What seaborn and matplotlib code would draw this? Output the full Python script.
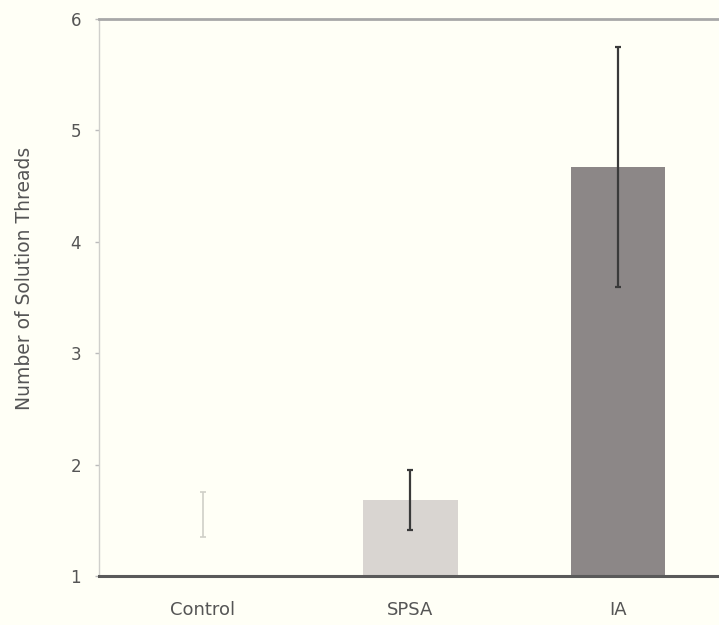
import matplotlib
matplotlib.use("Agg")
import matplotlib.pyplot as plt
import seaborn as sns
import pandas as pd

# Mean number of solution threads per condition, with error half-widths
conditions = ["Control", "SPSA", "IA"]
means = [1.55, 1.68, 4.67]
errors = [0.20, 0.27, 1.08]
bar_colors = ["#FFFFF6", "#D9D5D1", "#8C8787"]
err_colors = ["#CFCFC8", "#3A3A3A", "#3A3A3A"]
y_ticks = [1, 2, 3, 4, 5, 6]

sns.set_theme(style="white")
plt.rcParams["font.family"] = ["DejaVu Sans"]

bg = "#FFFFF6"
fig = plt.figure(figsize=(7.19, 6.25), dpi=100, facecolor=bg)
ax = fig.add_axes([0.1377, 0.0784, 0.866, 0.8912], facecolor=bg)

df = pd.DataFrame({"condition": conditions, "mean": means})
sns.barplot(data=df, x="condition", y="mean", hue="condition",
            palette=bar_colors, saturation=1, legend=False, errorbar=None,
            width=0.455, ax=ax, linewidth=0)

for i, (m, e, c) in enumerate(zip(means, errors, err_colors)):
    lw = 1.2 if i == 0 else 1.6
    ax.errorbar(i, m, yerr=e, fmt="none", ecolor=c, elinewidth=lw,
                capsize=2.2, capthick=lw, zorder=5)

ax.set_ylim(1, 6)
ax.set_xlim(-0.5, 2.5)
ax.set_yticks(y_ticks)
ax.set_yticklabels([str(t) for t in y_ticks])
ax.set_xlabel("")
ax.set_ylabel("Number of Solution Threads", fontsize=13.5, color="#555555")
ax.yaxis.set_label_coords(-0.104, 0.535)

ax.tick_params(axis="y", left=True, length=3, width=1, color="#BBBBBB",
               labelsize=12, labelcolor="#555555", pad=10)
ax.tick_params(axis="x", bottom=False, labelsize=13, labelcolor="#555555",
               pad=12)

ax.spines["left"].set_visible(True)
ax.spines["left"].set_color("#D0D0CC")
ax.spines["left"].set_linewidth(1.0)
ax.spines["top"].set_visible(True)
ax.spines["top"].set_color("#A8A8A8")
ax.spines["top"].set_linewidth(2.0)
ax.spines["bottom"].set_visible(True)
ax.spines["bottom"].set_color("#5A5A5A")
ax.spines["bottom"].set_linewidth(2.2)
ax.spines["right"].set_visible(False)

fig.savefig("out.png", dpi=100, facecolor=bg)
